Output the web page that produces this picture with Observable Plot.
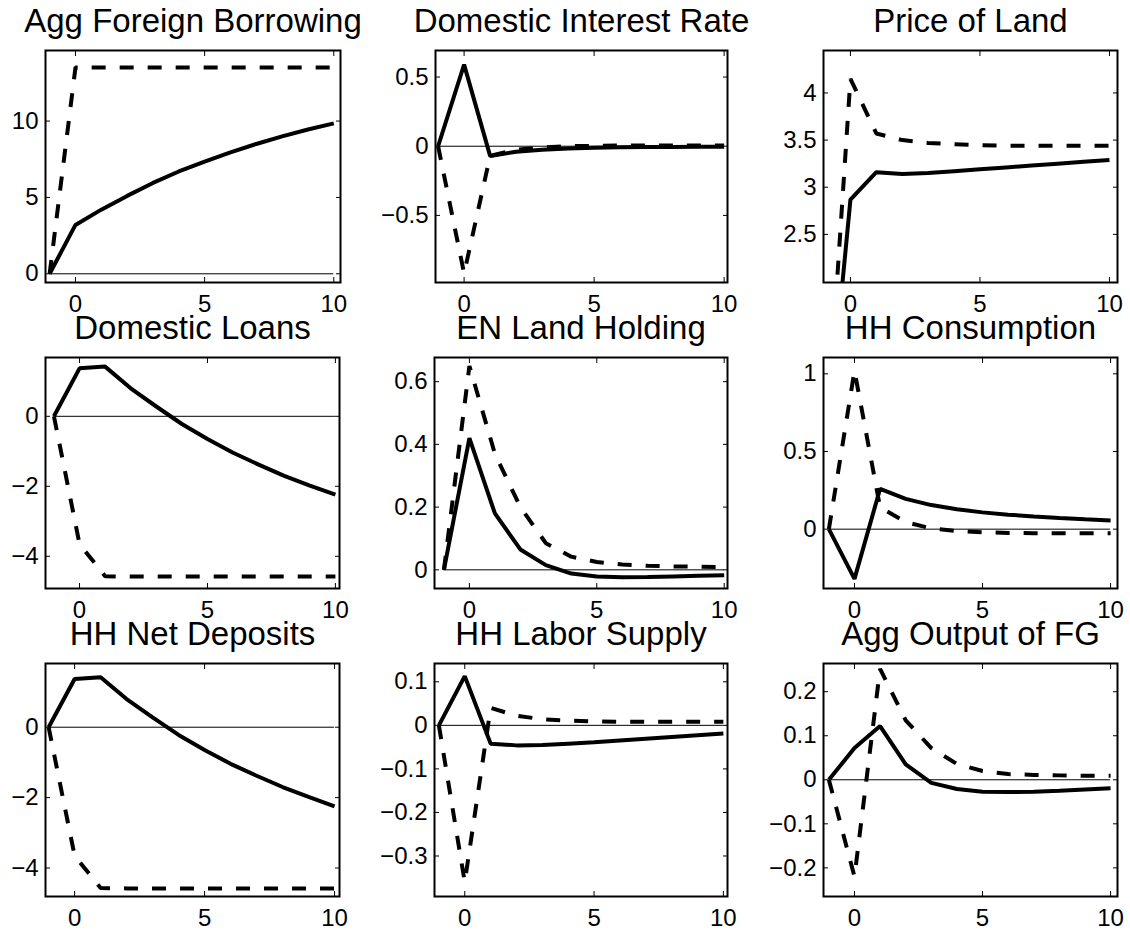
<!DOCTYPE html>
<html>
<head>
<meta charset="utf-8">
<script src="https://cdn.jsdelivr.net/npm/d3@7"></script>
<script src="https://cdn.jsdelivr.net/npm/@observablehq/plot@0.6"></script>
<style>
  html, body { margin: 0; padding: 0; background: #fff; }
  #chart { position: relative; width: 1130px; height: 933px; overflow: hidden; background: #fff; }
  #chart > svg { position: absolute; }
</style>
</head>
<body>
<div id="chart"></div>
<script>
// ---- data ----
const periods = [-1, 0, 1, 2, 3, 4, 5, 6, 7, 8, 9, 10];
const xTicks = [0, 5, 10];

const titles = [
  "Agg Foreign Borrowing", "Domestic Interest Rate", "Price of Land",
  "Domestic Loans", "EN Land Holding", "HH Consumption",
  "HH Net Deposits", "HH Labor Supply", "Agg Output of FG"
];

const aggForeignBorrowingSolid  = [0, 3.2, 4.2, 5.1, 5.95, 6.7, 7.35, 7.95, 8.5, 9.0, 9.45, 9.85];
const aggForeignBorrowingDashed = [0, 13.5, 13.5, 13.5, 13.5, 13.5, 13.5, 13.5, 13.5, 13.5, 13.5, 13.5];

const interestRateSolid  = [0, 0.59, -0.07, -0.04, -0.025, -0.016, -0.011, -0.008, -0.006, -0.005, -0.004, -0.004];
const interestRateDashed = [0, -0.92, -0.07, -0.025, -0.008, 0, 0.003, 0.005, 0.006, 0.006, 0.006, 0.006];

const landPriceSolid  = [0, 2.87, 3.16, 3.14, 3.15, 3.17, 3.19, 3.21, 3.23, 3.25, 3.27, 3.29];
const landPriceDashed = [0, 4.15, 3.57, 3.5, 3.47, 3.455, 3.445, 3.44, 3.44, 3.44, 3.44, 3.44];

const loansSolid  = [0, 1.37, 1.42, 0.8, 0.28, -0.22, -0.65, -1.04, -1.38, -1.7, -1.98, -2.24];
const loansDashed = [0, -3.65, -4.57, -4.58, -4.58, -4.58, -4.58, -4.58, -4.58, -4.58, -4.58, -4.58];

const landHoldingSolid  = [0, 0.42, 0.18, 0.065, 0.015, -0.012, -0.021, -0.024, -0.023, -0.021, -0.019, -0.017];
const landHoldingDashed = [0, 0.65, 0.37, 0.2, 0.085, 0.042, 0.025, 0.017, 0.013, 0.011, 0.01, 0.009];

const consumptionSolid  = [0, -0.32, 0.26, 0.195, 0.155, 0.128, 0.108, 0.093, 0.082, 0.072, 0.063, 0.055];
const consumptionDashed = [0, 1.02, 0.14, 0.045, 0.005, -0.012, -0.02, -0.024, -0.026, -0.027, -0.027, -0.027];

const depositsSolid  = [0, 1.37, 1.42, 0.8, 0.28, -0.22, -0.65, -1.04, -1.38, -1.7, -1.98, -2.25];
const depositsDashed = [0, -3.65, -4.57, -4.58, -4.58, -4.58, -4.58, -4.58, -4.58, -4.58, -4.58, -4.58];

const laborSolid  = [0, 0.113, -0.042, -0.046, -0.045, -0.042, -0.039, -0.035, -0.031, -0.027, -0.023, -0.019];
const laborDashed = [0, -0.36, 0.04, 0.022, 0.014, 0.011, 0.009, 0.008, 0.008, 0.008, 0.008, 0.008];

const outputSolid  = [0, 0.072, 0.122, 0.035, -0.007, -0.021, -0.027, -0.028, -0.027, -0.025, -0.022, -0.019];
const outputDashed = [0, -0.22, 0.252, 0.135, 0.072, 0.036, 0.02, 0.013, 0.011, 0.01, 0.009, 0.009];

const yTickSets = [
  [0, 5, 10], [-0.5, 0, 0.5], [2.5, 3, 3.5, 4],
  [-4, -2, 0], [0, 0.2, 0.4, 0.6], [0, 0.5, 1],
  [-4, -2, 0], [-0.3, -0.2, -0.1, 0, 0.1], [-0.2, -0.1, 0, 0.1, 0.2]
];

const solidSeries  = [aggForeignBorrowingSolid, interestRateSolid, landPriceSolid, loansSolid, landHoldingSolid, consumptionSolid, depositsSolid, laborSolid, outputSolid];
const dashedSeries = [aggForeignBorrowingDashed, interestRateDashed, landPriceDashed, loansDashed, landHoldingDashed, consumptionDashed, depositsDashed, laborDashed, outputDashed];

// ---- layout (pixel boxes and axis limits) ----
const layout = [
  {left: 45,  right: 340,  top: 50,  bottom: 282, xd: [-1.16, 10.26], yd: [-0.57, 14.62]},
  {left: 435, right: 727,  top: 50,  bottom: 282, xd: [-1.10, 10.13], yd: [-0.985, 0.692]},
  {left: 823, right: 1117, top: 50,  bottom: 282, xd: [-1.04, 10.31], yd: [1.99, 4.45]},
  {left: 45,  right: 339,  top: 357, bottom: 588, xd: [-1.33, 10.16], yd: [-4.92, 1.68]},
  {left: 434, right: 727,  top: 357, bottom: 588, xd: [-1.37, 10.13], yd: [-0.0595, 0.677]},
  {left: 823, right: 1117, top: 357, bottom: 588, xd: [-1.21, 10.27], yd: [-0.382, 1.105]},
  {left: 45,  right: 339,  top: 663, bottom: 896, xd: [-1.12, 10.19], yd: [-4.81, 1.81]},
  {left: 434, right: 727,  top: 663, bottom: 896, xd: [-1.17, 10.16], yd: [-0.393, 0.142]},
  {left: 823, right: 1117, top: 663, bottom: 896, xd: [-1.21, 10.27], yd: [-0.265, 0.264]}
];

const fmt = v => String(v).replace("-", "\u2212");
const ML = 80, MR = 20, MT = 60, MB = 50;
const chart = document.getElementById("chart");

titles.forEach((title, i) => {
  const L = layout[i];
  const rows = periods.map((t, j) => ({t, solid: solidSeries[i][j], dashed: dashedSeries[i][j]}));
  const w = L.right - L.left, h = L.bottom - L.top;
  const svg = Plot.plot({
    width: w + ML + MR,
    height: h + MT + MB,
    marginLeft: ML, marginRight: MR, marginTop: MT, marginBottom: MB,
    style: {fontFamily: "'Liberation Sans', Arial, Helvetica, sans-serif", fontSize: "24px", color: "#000", background: "transparent", overflow: "visible"},
    x: {domain: L.xd},
    y: {domain: L.yd},
    marks: [
      Plot.ruleY([0], {x1: d3.min(periods), x2: d3.max(periods), stroke: "#000", strokeWidth: 1, clip: true}),
      Plot.line(rows, {x: "t", y: "dashed", stroke: "#000", strokeWidth: 4, strokeDasharray: "14,14", strokeLinecap: "butt", strokeLinejoin: "miter", clip: true}),
      Plot.line(rows, {x: "t", y: "solid", stroke: "#000", strokeWidth: 4, strokeLinecap: "butt", strokeLinejoin: "miter", clip: true}),
      Plot.axisX({anchor: "bottom", ticks: xTicks, tickSize: -5, fill: "none", label: null}),
      Plot.axisX({anchor: "top", ticks: xTicks, tickSize: -5, fill: "none", label: null}),
      Plot.axisX({anchor: "bottom", ticks: xTicks, tickSize: 0, tickPadding: 12, tickFormat: fmt, label: null, fontSize: 24}),
      Plot.axisY({anchor: "left", ticks: yTickSets[i], tickSize: -5, fill: "none", label: null}),
      Plot.axisY({anchor: "right", ticks: yTickSets[i], tickSize: -5, fill: "none", label: null}),
      Plot.axisY({anchor: "left", ticks: yTickSets[i], tickSize: 0, tickPadding: 7, tickFormat: fmt, label: null, fontSize: 24}),
      Plot.frame({stroke: "#000", strokeWidth: 2}),
      Plot.text([title], {frameAnchor: "top", dy: -19, lineAnchor: "bottom", text: d => d, fontSize: 33, fill: "#000"})
    ]
  });
  svg.style.left = (L.left - ML) + "px";
  svg.style.top = (L.top - MT) + "px";
  chart.appendChild(svg);
});
</script>
</body>
</html>
